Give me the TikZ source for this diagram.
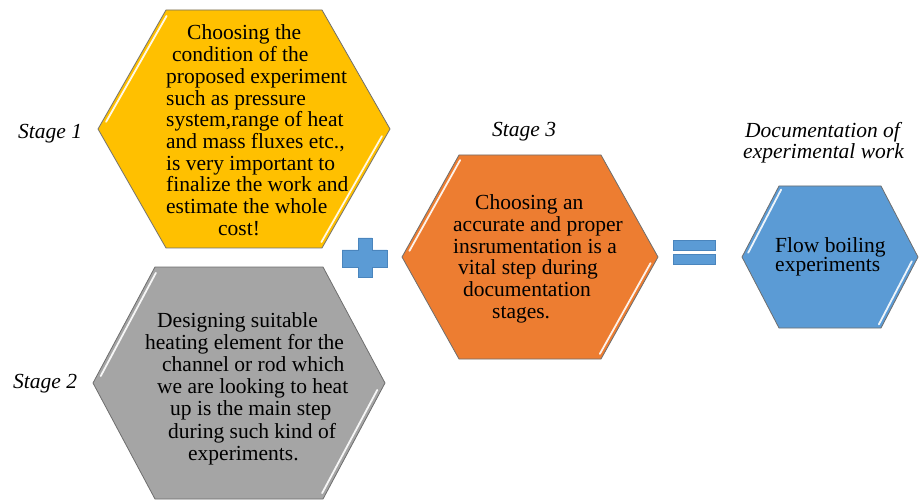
\documentclass[tikz,border=0pt]{standalone}
\usepackage{fontspec}
\setmainfont{Liberation Serif}
\usetikzlibrary{calc}
\definecolor{hexyellow}{HTML}{FFC000}
\definecolor{hexgray}{HTML}{A5A5A5}
\definecolor{hexorange}{HTML}{ED7D31}
\definecolor{hexblue}{HTML}{5B9BD5}
\definecolor{signblue}{HTML}{5B9BD5}
\definecolor{signedge}{HTML}{4A85BD}
\definecolor{hexedge}{HTML}{6E6E6E}
\tikzset{
  hexline/.style={draw=hexedge, line width=0.8pt, line join=miter},
  hilite/.style={draw=white, line width=1.8pt, line cap=round, opacity=0.9},
  txt/.style={anchor=base west, inner sep=0pt, font=\fontsize{21.5}{22}\selectfont},
  lbl/.style={anchor=base west, inner sep=0pt, font=\fontsize{21.5}{22}\selectfont\itshape},
  sign/.style={fill=signblue, draw=signedge, line width=0.6pt}
}
% cx, cy, half width, half top edge, half height, colour
\newcommand\myhex[6]{%
  \draw[hexline, fill=#6] ({#1-#3},#2) -- ({#1-#4},{#2-#5}) -- ({#1+#4},{#2-#5})
     -- ({#1+#3},#2) -- ({#1+#4},{#2+#5}) -- ({#1-#4},{#2+#5}) -- cycle;
  \draw[hilite] ({#1-#3+4+0.06*(#3-#4)},{#2-0.06*#5}) -- ({#1-#3+4+0.95*(#3-#4)},{#2-0.95*#5});
  \draw[hilite] ({#1+#3-4-0.06*(#3-#4)},{#2+0.06*#5}) -- ({#1+#3-4-0.95*(#3-#4)},{#2+0.95*#5});
}
\begin{document}
\begin{tikzpicture}[x=1pt,y=-1pt]
\useasboundingbox (0,0) rectangle (922,500);
% hexagons
\myhex{244}{129}{146}{78}{119}{hexyellow}
\myhex{239}{383}{146}{84}{116}{hexgray}
\myhex{530}{257}{128}{71}{102}{hexorange}
\myhex{830}{257}{88}{51}{71}{hexblue}
% plus sign
\draw[sign] (358,238) -- (372,238) -- (372,250) -- (387,250) -- (387,267) -- (372,267)
  -- (372,277) -- (358,277) -- (358,267) -- (342,267) -- (342,250) -- (358,250) -- cycle;
% equals sign
\draw[sign] (673,240) rectangle (715,250);
\draw[sign] (673,254) rectangle (715,264);
% yellow text
\node[txt] (y1) at (187,40) {Choosing the};
\node[txt] (y2) at (172,61.7) {condition of the};
\node[txt] (y3) at (166,83.4) {proposed experiment};
\node[txt] (y4) at (166,105.1) {such as pressure};
\node[txt] (y5) at (166,126.8) {system,range of heat};
\node[txt] (y6) at (166,148.5) {and mass fluxes etc.,};
\node[txt] (y7) at (166,170.2) {is very important to};
\node[txt] (y8) at (166,191.9) {finalize the work and};
\node[txt] (y9) at (166,213.6) {estimate the whole};
\node[txt] (y10) at (218,235.3) {cost!};
% gray text
\node[txt] (g1) at (157,327) {Designing suitable};
\node[txt] (g2) at (145,349.2) {heating element for the};
\node[txt] (g3) at (162,371.4) {channel or rod which};
\node[txt] (g4) at (157,393.6) {we are looking to heat};
\node[txt] (g5) at (170,415.8) {up is the main step};
\node[txt] (g6) at (168,438) {during such kind of};
\node[txt] (g7) at (188,460.2) {experiments.};
% orange text
\node[txt] (o1) at (475,210) {Choosing an};
\node[txt] (o2) at (453,231.6) {accurate and proper};
\node[txt] (o3) at (453,253.2) {insrumentation is a};
\node[txt] (o4) at (458,274.8) {vital step during};
\node[txt] (o5) at (463,296.4) {documentation};
\node[txt] (o6) at (492,318) {stages.};
% blue text
\node[txt] (b1) at (775,252) {Flow boiling};
\node[txt] (b2) at (775,272) {experiments};
% labels
\node[lbl] (s1) at (18,139) {Stage 1};
\node[lbl] (s2) at (13,388) {Stage 2};
\node[lbl] (s3) at (492,137) {Stage 3};
\node[lbl] (d1) at (745,138) {Documentation of};
\node[lbl] (d2) at (743,159) {experimental work};
\end{tikzpicture}
\end{document}
